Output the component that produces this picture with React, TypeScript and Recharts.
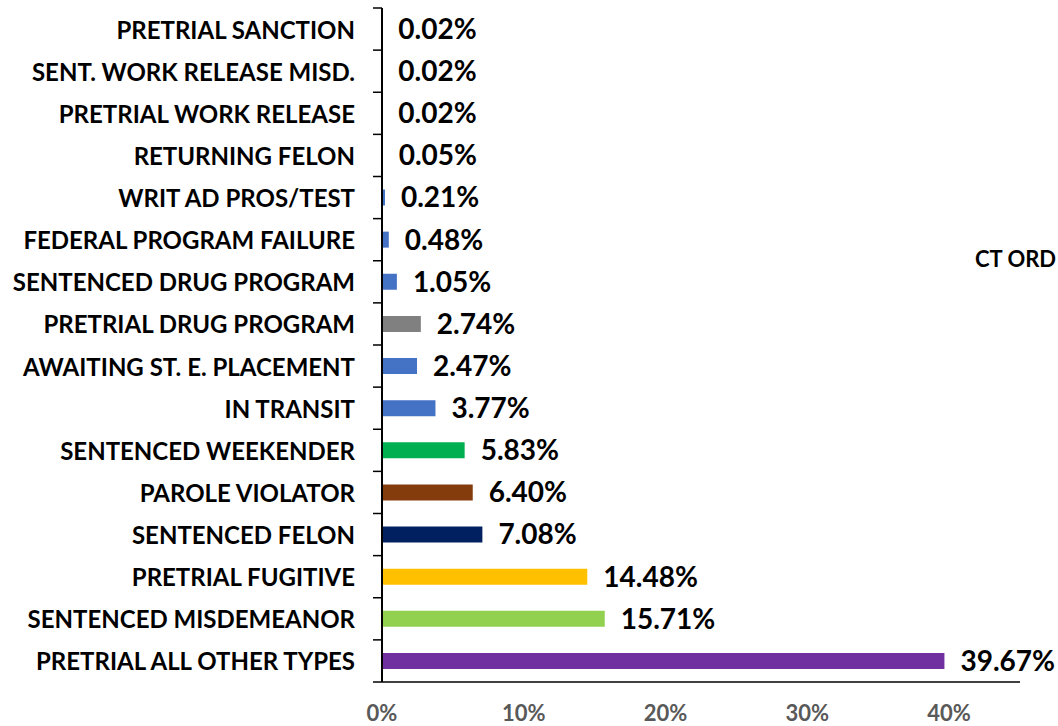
import React from "react";
import { BarChart, Bar, XAxis, YAxis, Cell, LabelList } from "recharts";

// top to bottom, as drawn
const categories = [
  "PRETRIAL SANCTION",
  "SENT. WORK RELEASE MISD.",
  "PRETRIAL WORK RELEASE",
  "RETURNING FELON",
  "WRIT AD PROS/TEST",
  "FEDERAL PROGRAM FAILURE",
  "SENTENCED DRUG PROGRAM",
  "PRETRIAL DRUG PROGRAM",
  "AWAITING ST. E. PLACEMENT",
  "IN TRANSIT",
  "SENTENCED WEEKENDER",
  "PAROLE VIOLATOR",
  "SENTENCED FELON",
  "PRETRIAL FUGITIVE",
  "SENTENCED MISDEMEANOR",
  "PRETRIAL ALL OTHER TYPES",
];

const shares = [
  0.02, 0.02, 0.02, 0.05, 0.21, 0.48, 1.05, 2.74, 2.47, 3.77, 5.83, 6.4, 7.08,
  14.48, 15.71, 39.67,
];

const barColors = [
  "#4472C4", "#4472C4", "#4472C4", "#4472C4", "#4472C4", "#4472C4", "#4472C4",
  "#808080", "#4472C4", "#4472C4", "#00B050", "#843C0C", "#002060", "#FFC000",
  "#92D050", "#7030A0",
];

const xTicks = [0, 10, 20, 30, 40];

const data = categories.map((name, i) => ({ name, value: shares[i] }));

const FONT = "Lato, 'Noto Sans', sans-serif";

const CategoryTick = (props: any) => {
  const { x, y, payload, index } = props;
  const half = 42.125 / 2;
  return (
    <g>
      <text
        x={x - 27}
        y={y}
        textAnchor="end"
        dominantBaseline="central"
        fontFamily={FONT}
        fontWeight={700}
        fontSize={24}
        fill="#000"
      >
        {payload.value}
      </text>
      <line x1={x - 9} x2={x} y1={y - half} y2={y - half} stroke="#000" strokeWidth={1.5} />
      {index === categories.length - 1 && (
        <line x1={x - 9} x2={x} y1={y + half} y2={y + half} stroke="#000" strokeWidth={1.5} />
      )}
    </g>
  );
};

export default function App() {
  return (
    <div
      style={{
        position: "absolute",
        left: 0,
        top: 0,
        width: 1058,
        height: 726,
        overflow: "hidden",
        background: "#fff",
      }}
    >
      <BarChart
        width={1058}
        height={726}
        data={data}
        layout="vertical"
        margin={{ top: 8, right: 38, bottom: 0, left: 0 }}
      >
        <XAxis
          type="number"
          domain={[0, 45]}
          ticks={xTicks}
          tickFormatter={(v: number) => `${v}%`}
          axisLine={{ stroke: "#000", strokeWidth: 1.5 }}
          tickLine={false}
          tickMargin={17}
          height={44}
          tick={{ fill: "#595959", fontSize: 22, fontWeight: 700, fontFamily: FONT }}
        />
        <YAxis
          type="category"
          dataKey="name"
          width={382}
          axisLine={{ stroke: "#000", strokeWidth: 2 }}
          tickLine={false}
          tickSize={0}
          tickMargin={0}
          interval={0}
          tick={<CategoryTick />}
        />
        <Bar dataKey="value" barSize={16} isAnimationActive={false}>
          {data.map((d, i) => (
            <Cell key={d.name} fill={barColors[i]} />
          ))}
          <LabelList
            dataKey="value"
            position="right"
            offset={16}
            formatter={(v: any) => `${Number(v).toFixed(2)}%`}
            style={{ fill: "#000", fontSize: 28, fontWeight: 700, fontFamily: FONT }}
          />
        </Bar>
      </BarChart>
      <div
        style={{
          position: "absolute",
          left: 975,
          top: 248,
          whiteSpace: "nowrap",
          fontFamily: FONT,
          fontWeight: 700,
          fontSize: 22,
          lineHeight: 1,
          color: "#000",
        }}
      >
        CT ORD
      </div>
    </div>
  );
}
